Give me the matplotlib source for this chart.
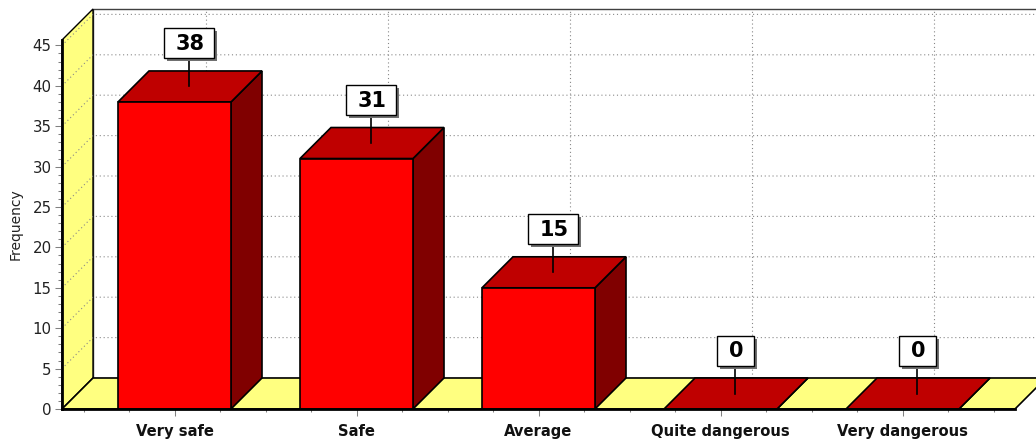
import matplotlib
matplotlib.use('Agg')
import matplotlib.pyplot as plt
from matplotlib.patches import Polygon, Rectangle
from matplotlib.ticker import MultipleLocator
from matplotlib.transforms import ScaledTranslation

categories = ['Very safe', 'Safe', 'Average', 'Quite dangerous', 'Very dangerous']
frequency = [38, 31, 15, 0, 0]
y_ticks = [0, 5, 10, 15, 20, 25, 30, 35, 40, 45]

FRONT = '#ff0000'
TOP = '#bf0000'
SIDE = '#800000'
WALL = '#ffff80'
GRID = '#888888'
TICK = '#808080'
DOTS = (0, (1, 2.5))

W, H = 1036, 444
fig = plt.figure(figsize=(W / 100, H / 100), dpi=100)
# axes = the front plane of the 3D box, in pixels: x 62..1015, y 40..409
ax = fig.add_axes([62 / W, (H - 409) / H, (1015 - 62) / W, (409 - 40) / H])
ax.patch.set_alpha(0)

px_x = 182.0   # pixels per category
px_y = 8.08    # pixels per frequency unit
xmin, xmax = (62 - 174.5) / px_x, (1015 - 174.5) / px_x
ymax = 369 / px_y
ax.set_xlim(xmin, xmax)
ax.set_ylim(0, ymax)

# depth of the box in data units
dx = 31 / px_x
dy = 31 / px_y
bar_w = 113 / px_x


def poly(pts, fc, ec='black', lw=1.2, z=2):
    ax.add_patch(Polygon(pts, closed=True, fc=fc, ec=ec, lw=lw, zorder=z, clip_on=False))


# back wall, left wall, floor
ax.add_patch(Rectangle((xmin + dx, dy), xmax - xmin, ymax, fc='white', ec='#404040', lw=1.0,
                       zorder=0, clip_on=False))
poly([(xmin, 0), (xmin + dx, dy), (xmin + dx, ymax + dy), (xmin, ymax)], WALL, lw=1.0, z=1)
poly([(xmin, 0), (xmax, 0), (xmax + dx, dy), (xmin + dx, dy)], WALL, z=1)

# dotted grid
for v in y_ticks[1:]:
    ax.plot([xmin, xmin + dx, xmax + dx], [v, v + dy, v + dy], color=GRID, lw=0.8, ls=DOTS,
            zorder=1.5, clip_on=False)
for i in range(len(categories)):
    ax.plot([i + dx, i + dx], [dy, ymax + dy], color=GRID, lw=0.8, ls=DOTS, zorder=0.5,
            clip_on=False)

# bars
for i, v in enumerate(frequency):
    l, r = i - bar_w / 2, i + bar_w / 2
    poly([(r, 0), (r + dx, dy), (r + dx, v + dy), (r, v)], SIDE, z=3)
    poly([(l, v), (r, v), (r + dx, v + dy), (l + dx, v + dy)], TOP, z=3)
ax.bar(range(len(categories)), frequency, width=bar_w, color=FRONT, edgecolor='black', lw=1.2,
       zorder=4)

# value boxes: coordinates in pixels, relative to the centre of the bar top
for i, v in enumerate(frequency):
    tr = ScaledTranslation(i + dx / 2, v + dy / 2, ax.transData)
    label = str(v)
    bw = 50 if v >= 10 else 37
    ax.plot([-1, -1], [0, 29], color='black', lw=1.2, transform=tr, zorder=6, clip_on=False)
    ax.add_patch(Rectangle((-bw / 2 + 2, 25), bw, 30, fc='#707070', ec='none', transform=tr,
                           zorder=6, clip_on=False))
    ax.add_patch(Rectangle((-bw / 2 - 1, 28), bw, 30, fc='white', ec='black', lw=1.0, transform=tr,
                           zorder=7, clip_on=False))
    ax.text(0, 42.5, label, transform=tr, ha='center', va='center', fontsize=15,
            fontweight='bold', family='DejaVu Sans', color='black', zorder=8)

# axes
ax.spines['top'].set_visible(False)
ax.spines['right'].set_visible(False)
ax.spines['left'].set_linewidth(2)
ax.spines['bottom'].set_linewidth(2)
ax.spines['left'].set_zorder(9)
ax.spines['bottom'].set_zorder(9)
ax.set_xticks(range(len(categories)))
ax.set_xticklabels(categories, fontsize=10.6, fontweight='bold', color='#111111')
ax.xaxis.set_minor_locator(MultipleLocator(0.25))
ax.set_yticks(y_ticks)
ax.yaxis.set_minor_locator(MultipleLocator(1))
ax.tick_params(axis='y', which='major', length=5, width=0.75, color=TICK, labelsize=10.8,
               labelcolor='#222222', pad=2.5)
ax.tick_params(axis='y', which='minor', length=3, width=0.75, color=TICK)
ax.tick_params(axis='x', which='major', length=5, width=0.75, color=TICK, pad=5.5)
ax.tick_params(axis='x', which='minor', length=2.5, width=0.75, color=TICK)
fig.text(15.5 / W, 1 - 224 / H, 'Frequency', rotation=90, ha='center', va='center', fontsize=10,
         color='#222222')

fig.savefig('out.png', dpi=100)
